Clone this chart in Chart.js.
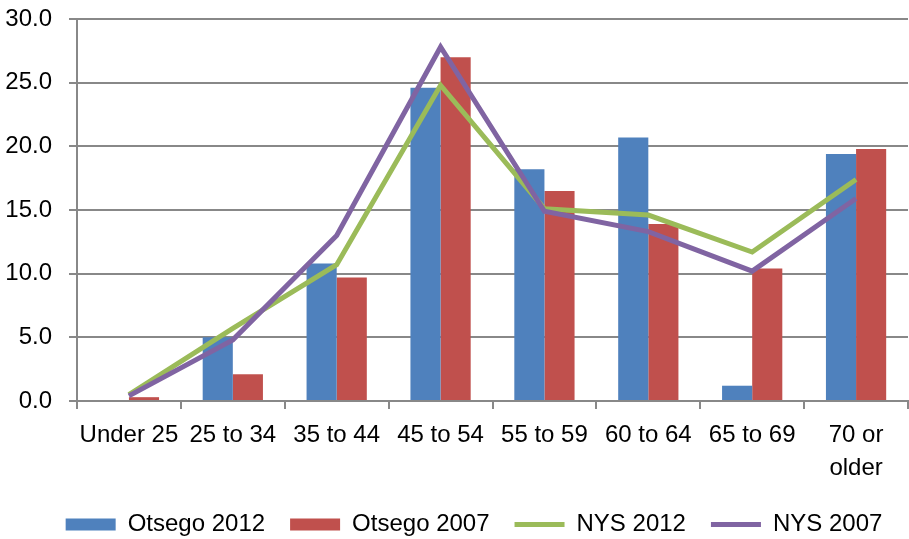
<!DOCTYPE html>
<html>
<head>
<meta charset="utf-8">
<script src="https://cdn.jsdelivr.net/npm/chart.js@4.4.1/dist/chart.umd.min.js"></script>
<style>
  html, body { margin: 0; padding: 0; background: #fff; }
  #wrap { width: 909px; height: 539px; position: relative; }
</style>
</head>
<body>
<div id="wrap"><canvas id="chart"></canvas></div>
<script>
// categorias (faixas etarias)
const faixas = ["Under 25", "25 to 34", "35 to 44", "45 to 54", "55 to 59", "60 to 64", "65 to 69", ["70 or", "older"]];

// valores (%)
const otsego2012 = [0.0, 5.0, 10.8, 24.6, 18.2, 20.7, 1.2, 19.4];
const otsego2007 = [0.3, 2.1, 9.7, 27.0, 16.5, 13.9, 10.4, 19.8];
const nys2012 = [0.5, 5.7, 10.7, 24.8, 15.1, 14.6, 11.7, 17.4];
const nys2007 = [0.4, 4.8, 13.0, 27.8, 14.9, 13.3, 10.2, 15.9];

const yTicks = [0, 5, 10, 15, 20, 25, 30];

const fonte = "'Liberation Sans', Arial, sans-serif";
const cinza = "#888888";

const data = {
  labels: faixas,
  datasets: [
    {
      type: "bar",
      label: "Otsego 2012",
      data: otsego2012,
      backgroundColor: "#4F81BD",
      borderColor: "#4F81BD",
      borderWidth: 0,
      pointStyle: "rect",
      order: 2
    },
    {
      type: "bar",
      label: "Otsego 2007",
      data: otsego2007,
      backgroundColor: "#C0504D",
      borderColor: "#C0504D",
      borderWidth: 0,
      pointStyle: "rect",
      order: 2
    },
    {
      type: "line",
      label: "NYS 2012",
      data: nys2012,
      borderColor: "#9BBB59",
      backgroundColor: "#9BBB59",
      borderWidth: 5,
      pointRadius: 0,
      tension: 0,
      pointStyle: "line",
      order: 1
    },
    {
      type: "line",
      label: "NYS 2007",
      data: nys2007,
      borderColor: "#8064A2",
      backgroundColor: "#8064A2",
      borderWidth: 5,
      pointRadius: 0,
      tension: 0,
      pointStyle: "line",
      order: 0
    }
  ]
};

// empurra a legenda um pouco para a direita, como no original
const moveLegenda = {
  id: "moveLegenda",
  afterLayout(chart) {
    chart.legend.left += 20;
    chart.legend.right += 20;
  }
};

const config = {
  type: "bar",
  data,
  plugins: [moveLegenda],
  options: {
    responsive: true,
    maintainAspectRatio: false,
    animation: false,
    layout: { padding: { left: 0, right: 1, top: 19, bottom: -7.5 } },
    datasets: {
      bar: { categoryPercentage: 0.58, barPercentage: 1.0 }
    },
    scales: {
      x: {
        offset: true,
        afterFit: (scale) => { scale.height = 86.5; },
        grid: {
          offset: true,
          drawOnChartArea: false,
          drawTicks: true,
          tickLength: 8,
          color: cinza,
          lineWidth: 2
        },
        border: { color: cinza, width: 2 },
        ticks: {
          color: "#000",
          maxRotation: 0,
          autoSkip: false,
          padding: 10,
          font: { family: fonte, size: 24, lineHeight: 1.375 }
        }
      },
      y: {
        min: 0,
        max: 30,
        afterFit: (scale) => {
          scale.width = 77;
          scale.paddingTop = 0;
          scale.paddingBottom = 0;
        },
        afterBuildTicks: (axis) => { axis.ticks = yTicks.map(v => ({ value: v })); },
        grid: {
          color: cinza,
          lineWidth: 2,
          tickLength: 8
        },
        border: { color: cinza, width: 2 },
        ticks: {
          color: "#000",
          padding: 17,
          font: { family: fonte, size: 24 },
          callback: (v) => Number(v).toFixed(1)
        }
      }
    },
    plugins: {
      tooltip: { enabled: false },
      legend: {
        position: "bottom",
        labels: {
          usePointStyle: true,
          pointStyleWidth: 50,
          boxHeight: 12,
          padding: 25,
          color: "#000",
          font: { family: fonte, size: 24 },
          sort: (a, b) => a.datasetIndex - b.datasetIndex
        }
      }
    }
  }
};

const ctx = document.getElementById("chart");
const myChart = new Chart(ctx, config);
</script>
</body>
</html>
